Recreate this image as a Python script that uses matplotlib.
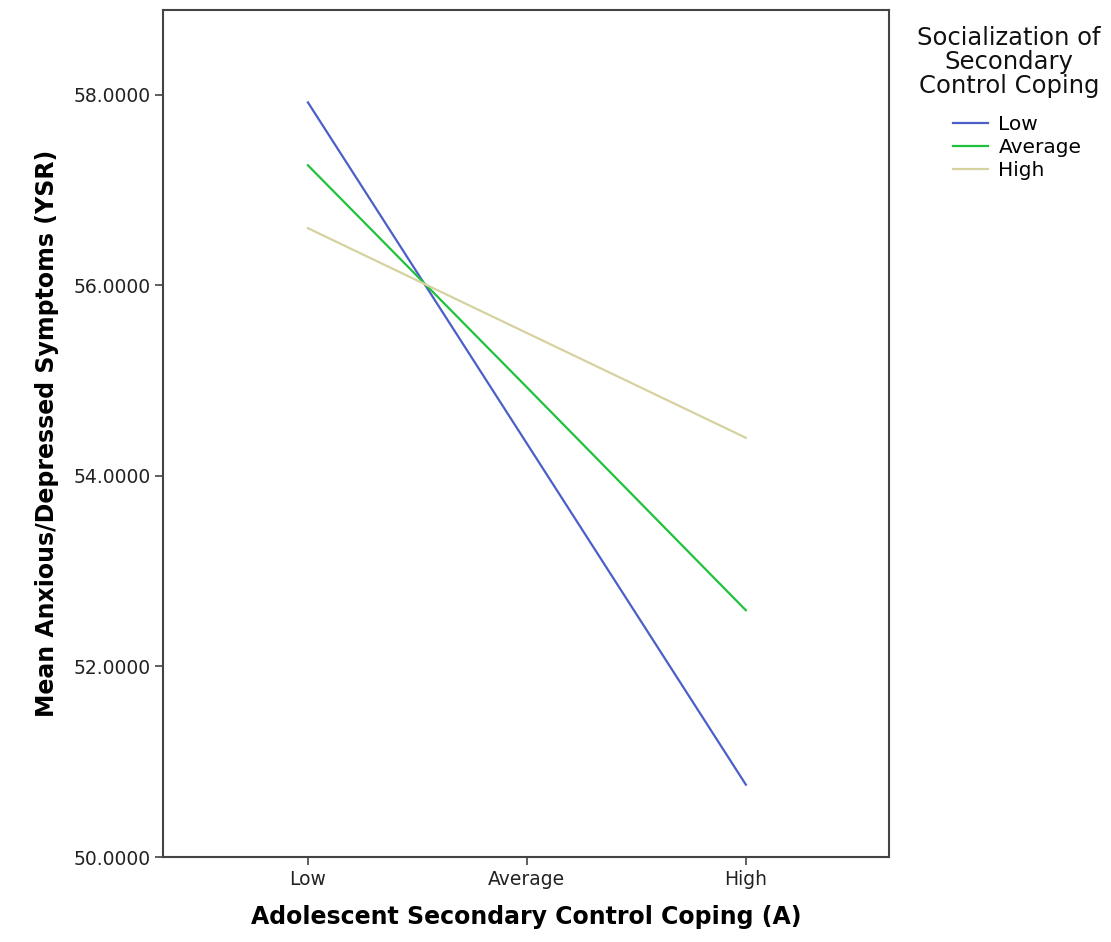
import matplotlib
matplotlib.use("Agg")
import matplotlib.pyplot as plt

x_levels = ["Low", "Average", "High"]
low_socialization = [57.92, 54.34, 50.76]
avg_socialization = [57.26, 54.93, 52.59]
high_socialization = [56.60, 55.50, 54.40]

series = [
    ("Low", low_socialization, "#4c5ec8"),
    ("Average", avg_socialization, "#1fc23c"),
    ("High", high_socialization, "#d6d2a0"),
]
y_ticks = [50, 52, 54, 56, 58]

fig = plt.figure(figsize=(11.11, 9.42), dpi=100)
ax = fig.add_axes([0.1467, 0.0902, 0.6533, 0.8992])

xs = range(len(x_levels))
for name, vals, color in series:
    ax.plot(xs, vals, color=color, linewidth=1.6, label=name)

ax.set_xlim(-0.662, 2.653)
ax.set_ylim(50, 58.89)
ax.set_xticks(list(xs))
ax.set_xticklabels(x_levels)
ax.set_yticks(y_ticks)
ax.set_yticklabels([f"{v:.4f}" for v in y_ticks])
ax.tick_params(axis="both", labelsize=13.5, length=6, width=1.2,
               color="#444444", labelcolor="#222222", pad=3)

for sp in ax.spines.values():
    sp.set_color("#444444")
    sp.set_linewidth(1.5)

ax.set_xlabel("Adolescent Secondary Control Coping (A)", fontsize=17,
              fontweight="bold", labelpad=12)
ax.set_ylabel("Mean Anxious/Depressed Symptoms (YSR)", fontsize=17,
              fontweight="bold", labelpad=10)

# legend title placed on its own, entries below
fig.text(1009 / 1111, 1 - 26 / 942, "Socialization of\nSecondary\nControl Coping",
         ha="center", va="top", fontsize=17.5, linespacing=1.0,
         multialignment="center", color="#111111")
ax.legend(loc="upper left", bbox_to_anchor=(943 / 1111, 1 - 105 / 942),
          bbox_transform=fig.transFigure, frameon=False, borderpad=0,
          fontsize=14.5, handlelength=1.75, handletextpad=0.5,
          labelspacing=0.2)

fig.savefig("out.png", dpi=100)
